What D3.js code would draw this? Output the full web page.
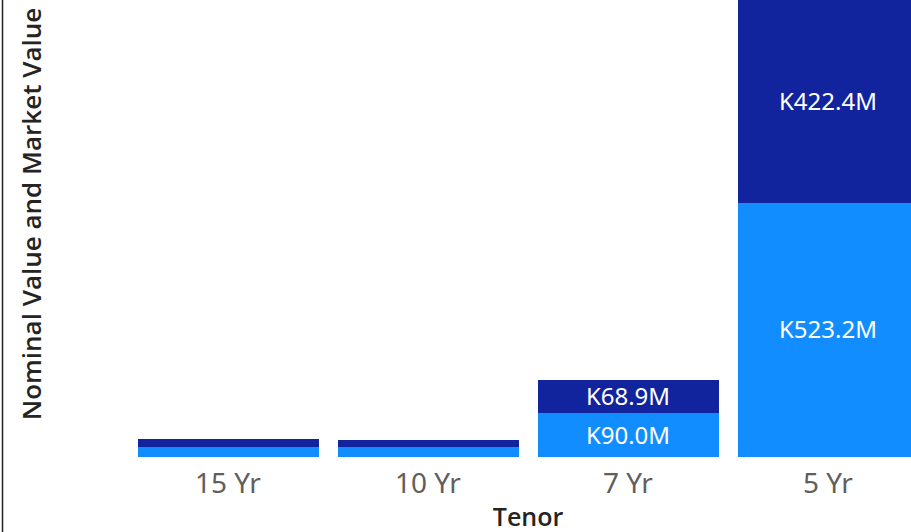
<!DOCTYPE html>
<meta charset="utf-8">
<style>
body { margin: 0; background: #fff; }
svg * { font-family: 'Segoe UI', 'Noto Sans', sans-serif; }
.tick-label { fill: #605E5C; font-size: 28px; }
.axis-title { fill: #252423; font-size: 25px; font-weight: 600; font-family: 'Open Sans', 'Noto Sans', sans-serif; }
.y-title { font-size: 26px; }
.data-label { fill: #fff; font-size: 24px; }
</style>
<svg id="svg" width="911" height="532"></svg>
<script src="https://d3js.org/d3.v7.min.js"></script>
<script>

// values in millions
const tenors = ['15 Yr', '10 Yr', '7 Yr', '5 Yr'];
const marketValue = [20.5, 20.3, 90.0, 523.2];   // light blue, bottom
const nominalValue = [16.8, 14.2, 68.9, 422.4];  // dark blue, top
const seriesColors = ['#118DFF', '#12239E'];

let width = 911, height = 532;
let svg = d3.select('#svg');

let rows = tenors.map((t, i) => ({tenor: t, market: marketValue[i], nominal: nominalValue[i]}));
let stack = d3.stack().keys(['market', 'nominal'])(rows);

let x = d3.scaleBand()
    .domain(tenors)
    .range([128, 928])
    .paddingInner(0.095)
    .paddingOuter(0.0475);

let y = d3.scaleLinear()
    .domain([0, 945.6])
    .range([457, -2]);

function translate(x, y) {
    return 'translate(' + x + ',' + y + ')';
}

let fmt = v => 'K' + d3.format('.1f')(v) + 'M';

let layers = svg.selectAll('.layer')
    .data(stack)
    .enter().append('g')
    .attr('class', 'layer')
    .attr('fill', (d, i) => seriesColors[i]);

layers.selectAll('rect')
    .data(d => d)
    .enter().append('rect')
    .attr('x', d => x(d.data.tenor))
    .attr('width', x.bandwidth())
    .attr('y', d => y(d[1]))
    .attr('height', d => y(d[0]) - y(d[1]))
    .attr('shape-rendering', 'crispEdges');

layers.selectAll('text')
    .data(d => d.filter(s => y(s[0]) - y(s[1]) > 28))
    .enter().append('text')
    .attr('class', 'data-label')
    .attr('text-anchor', 'middle')
    .attr('x', d => x(d.data.tenor) + x.bandwidth() / 2)
    .attr('y', d => (y(d[0]) + Math.max(y(d[1]), 0)) / 2)
    .attr('dy', '0.35em')
    .text(d => fmt(d[1] - d[0]));

// x axis labels, no line or ticks
let xAxis = svg.append('g').attr('transform', translate(0, 457));
xAxis.selectAll('text')
    .data(tenors)
    .enter().append('text')
    .attr('class', 'tick-label')
    .attr('text-anchor', 'middle')
    .attr('x', d => x(d) + x.bandwidth() / 2)
    .attr('y', 36)
    .text(d => d);

svg.append('text')
    .attr('class', 'axis-title')
    .attr('text-anchor', 'middle')
    .attr('transform', translate(528, 526))
    .text('Tenor');

svg.append('text')
    .attr('class', 'axis-title y-title')
    .attr('text-anchor', 'middle')
    .attr('transform', translate(41, 214) + ' rotate(-90)')
    .text('Nominal Value and Market Value');

// left frame line
svg.append('line')
    .attr('x1', 2.5).attr('x2', 2.5)
    .attr('y1', 0).attr('y2', height)
    .attr('stroke', '#222')
    .attr('stroke-width', 1.5);

</script>
